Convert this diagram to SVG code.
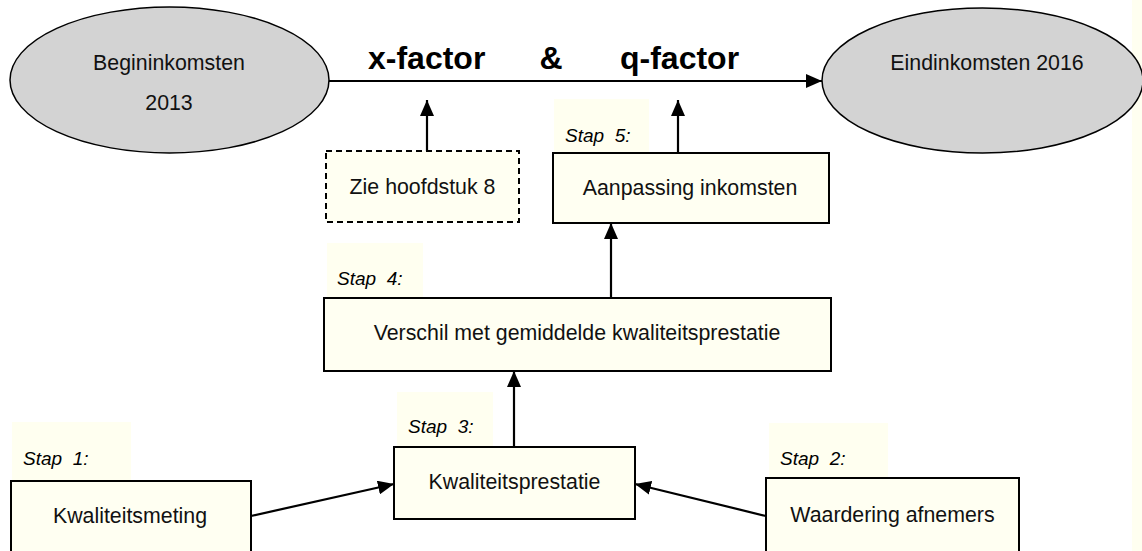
<svg xmlns="http://www.w3.org/2000/svg" width="1142" height="551" viewBox="0 0 1142 551">
<style>
  .ell { fill: #d3d3d3; stroke: #000; stroke-width: 1.5; }
  .box { fill: #fffff2; stroke: #000; stroke-width: 2; }
  .dash { fill: #fffff2; stroke: #000; stroke-width: 2; stroke-dasharray: 6 4; }
  .lbg { fill: #fffff0; }
  .t { font-family: "Liberation Sans", Arial, sans-serif; font-size: 21.33px; fill: #111; text-anchor: middle; }
  .b { font-family: "Liberation Sans", Arial, sans-serif; font-size: 32px; font-weight: bold; fill: #000; }
  .s { font-family: "Liberation Sans", Arial, sans-serif; font-size: 19px; font-style: italic; fill: #000; white-space: pre; }
  .c { stroke: #000; stroke-width: 2.2; fill: none; marker-end: url(#ah); }
</style>
<defs>
  <marker id="ah" markerUnits="userSpaceOnUse" markerWidth="16" markerHeight="14" viewBox="0 0 16 14" refX="16" refY="7" orient="auto">
    <path d="M0,0 L16,7 L0,14 z" fill="#000"/>
  </marker>
</defs>
<rect x="0" y="0" width="1142" height="551" fill="#fff"/>
<rect x="1132" y="0" width="10" height="551" fill="#fffff0"/>

<g id="connectors">
  <line class="c" x1="329" y1="81" x2="822" y2="81"/>
  <line class="c" x1="427" y1="151" x2="427" y2="100"/>
  <line class="c" x1="678" y1="153" x2="678" y2="100"/>
  <line class="c" x1="611" y1="298" x2="611" y2="223"/>
  <line class="c" x1="514" y1="447" x2="514" y2="371"/>
  <line class="c" x1="251" y1="516" x2="394" y2="484"/>
  <line class="c" x1="766" y1="516" x2="635" y2="484"/>
</g>

<g id="begin">
  <ellipse class="ell" cx="169.5" cy="80" rx="159.5" ry="73"/>
  <text class="t" x="169" y="70">Begininkomsten</text>
  <text class="t" x="169" y="110">2013</text>
</g>

<g id="eind">
  <ellipse class="ell" cx="982.5" cy="80.5" rx="160.5" ry="72.5"/>
  <text class="t" x="987" y="70">Eindinkomsten 2016</text>
</g>

<g id="factors">
  <text class="b" x="368" y="69">x-factor</text>
  <text class="b" x="551" y="69" text-anchor="middle">&amp;</text>
  <text class="b" x="620" y="69">q-factor</text>
</g>

<g id="hoofdstuk8">
  <rect class="dash" x="326" y="151" width="193" height="71"/>
  <text class="t" x="422.5" y="194">Zie hoofdstuk 8</text>
</g>

<g id="stap5">
  <rect class="lbg" x="554" y="99" width="95" height="54"/>
  <text class="s" x="565" y="142" xml:space="preserve">Stap  5:</text>
  <rect class="box" x="553" y="153" width="276" height="70"/>
  <text class="t" x="690" y="195">Aanpassing inkomsten</text>
</g>

<g id="stap4">
  <rect class="lbg" x="327" y="243" width="96" height="55"/>
  <text class="s" x="337" y="285" xml:space="preserve">Stap  4:</text>
  <rect class="box" x="324" y="298" width="507" height="73"/>
  <text class="t" x="577" y="340">Verschil met gemiddelde kwaliteitsprestatie</text>
</g>

<g id="stap3">
  <rect class="lbg" x="397" y="392" width="96" height="55"/>
  <text class="s" x="408" y="433" xml:space="preserve">Stap  3:</text>
  <rect class="box" x="394" y="447" width="241" height="72"/>
  <text class="t" x="514.5" y="489">Kwaliteitsprestatie</text>
</g>

<g id="stap1">
  <rect class="lbg" x="12" y="422" width="119" height="59"/>
  <text class="s" x="23" y="465" xml:space="preserve">Stap  1:</text>
  <rect class="box" x="11" y="481" width="240" height="80"/>
  <text class="t" x="130" y="523">Kwaliteitsmeting</text>
</g>

<g id="stap2">
  <rect class="lbg" x="769" y="423" width="119" height="55"/>
  <text class="s" x="780" y="465" xml:space="preserve">Stap  2:</text>
  <rect class="box" x="766" y="478" width="253" height="80"/>
  <text class="t" x="892.5" y="522">Waardering afnemers</text>
</g>
</svg>
